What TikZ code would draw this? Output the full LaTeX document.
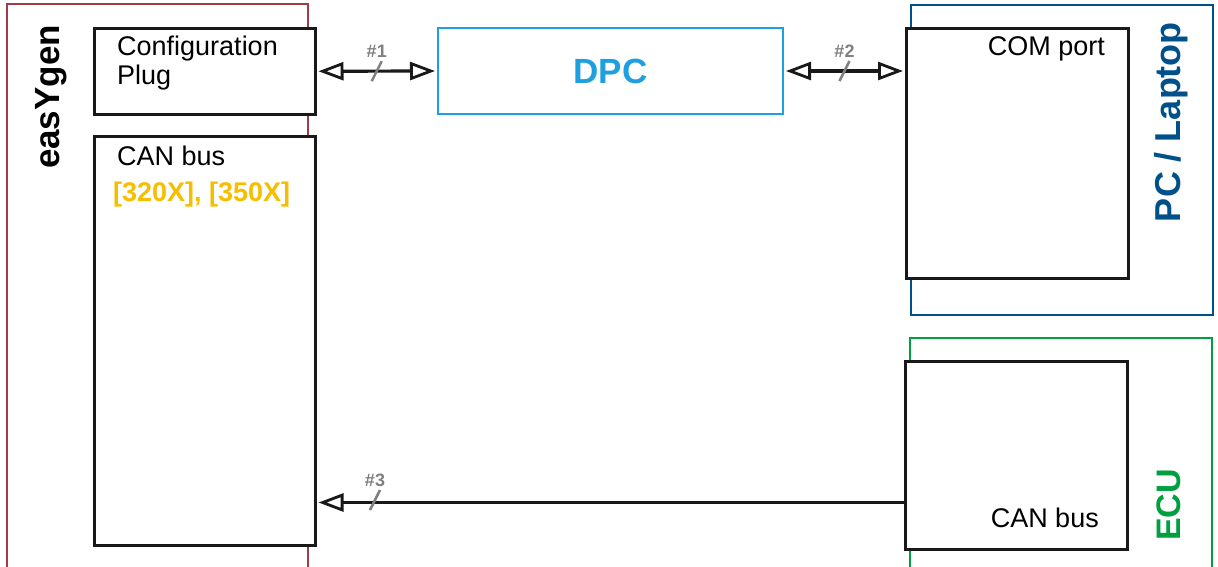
\documentclass[tikz,border=0pt]{standalone}
\usepackage{fontspec}
\setmainfont{Liberation Sans}
\usetikzlibrary{arrows.meta,calc}
\definecolor{egred}{HTML}{A33A4C}
\definecolor{dpcblue}{HTML}{1E9FE0}
\definecolor{pcblue}{HTML}{00508A}
\definecolor{ecugreen}{HTML}{00A040}
\definecolor{cfgorange}{HTML}{F7BE00}
\definecolor{slashgray}{HTML}{808080}
\tikzset{
  box/.style={draw=black!90, line width=2.5pt, inner sep=0pt, anchor=north west},
  outerline/.style={line width=2pt},
  txt/.style={font=\fontsize{27}{30}\selectfont, inner sep=0pt},
  big/.style={font=\fontsize{35}{40}\selectfont\bfseries, inner sep=0pt},
  tip/.tip={Triangle[open, length=25pt, width=18pt, line width=2.8pt]},
  link/.style={line width=3.2pt, draw=black!90, -tip},
  bilink/.style={line width=3.2pt, draw=black!90, tip-tip},
  slashmark/.style={draw=slashgray, line width=2.5pt},
  hashlbl/.style={font=\fontsize{18}{20}\selectfont\bfseries, text=slashgray, inner sep=0pt},
}
\begin{document}
\begin{tikzpicture}[x=1pt,y=-1pt]
\useasboundingbox (0,0) rectangle (1218,566);
% outer frames
\draw[outerline, egred] (7,575) -- (7,4) -- (308,4) -- (308,575);
\draw[outerline, pcblue] (911,5) rectangle (1213,315);
\draw[outerline, ecugreen] (910,575) -- (910,338) -- (1212,338) -- (1212,575);
% inner boxes
\node[box, fill=white, minimum width=221pt, minimum height=86pt] (cfg) at (93,27) {};
\node[box, fill=white, minimum width=221pt, minimum height=409pt] (can) at (93,135) {};
\node[box, draw=dpcblue, line width=2pt, minimum width=345pt, minimum height=86pt] (dpc) at (437,27) {};
\node[box, fill=white, minimum width=222pt, minimum height=250pt] (com) at (905,27) {};
\node[box, fill=white, minimum width=222pt, minimum height=188pt] (ecan) at (904,360) {};
% texts
\node[txt, anchor=base west] (cfgA) at (117,55) {Configuration};
\node[txt, anchor=base west] (cfgB) at (117,84) {Plug};
\node[txt, anchor=base west] (canA) at (117,165) {CAN bus};
\node[txt, anchor=base west, text=cfgorange, font=\fontsize{27}{30}\selectfont\bfseries] (canB) at (113,201) {[320X], [350X]};
\node[big, text=dpcblue] at (dpc.center) {DPC};
\node[txt, anchor=base east] (comA) at (1105,55) {COM port};
\node[txt, anchor=base east] (ecanA) at (1099,527) {CAN bus};
\node[big, rotate=90, anchor=base] (eg) at (59,97) {easYgen};
\node[big, rotate=90, anchor=base, text=pcblue, font=\fontsize{36}{40}\selectfont\bfseries] (pc) at (1180,122) {PC / Laptop};
\node[big, rotate=90, anchor=base, text=ecugreen, font=\fontsize{34}{40}\selectfont\bfseries] (ecu) at (1180,505) {ECU};
% connectors
\draw[bilink] ([xshift=2pt]cfg.east) -- ([xshift=-2pt]dpc.west);
\coordinate (comin) at ($(com.north west)+(0,43)$);
\draw[bilink] ([xshift=2pt]dpc.east) -- ([xshift=-2pt]dpc.east -| comin);
\coordinate (canout) at ($(ecan.south west)+(0,-48)$);
\draw[link] (canout) -- ([xshift=2pt]can.east |- canout);
% slash marks
\coordinate (m1) at ($(cfg.east)!0.5!(dpc.west)$);
\coordinate (m2) at ($(dpc.east)!0.5!(dpc.east -| comin)$);
\coordinate (m3) at (375,500);
\foreach \m/\l in {m1/\#1, m2/\#2, m3/\#3}{
  \draw[slashmark] ($(\m)+(-5,10)$) -- ($(\m)+(5,-10)$);
  \node[hashlbl] at ($(\m)+(0,-20)$) {\l};
}
\end{tikzpicture}
\end{document}
